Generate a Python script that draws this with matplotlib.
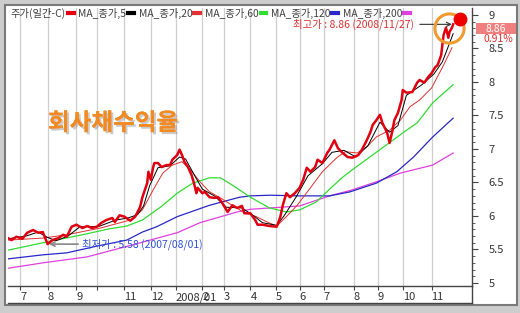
import matplotlib
matplotlib.use("Agg")
import matplotlib.pyplot as plt
import matplotlib.patheffects as pe
import matplotlib.transforms as mtrans
from matplotlib.lines import Line2D
from matplotlib.patches import Rectangle

plt.rcParams['font.family'] = ['Noto Sans CJK KR', 'DejaVu Sans']

# 거래일 인덱스 (2007/06 말 ~ 2008/11/27)
price_day = [0, 3, 7, 12, 16, 21, 25, 29, 33, 37, 42, 46, 49, 53, 57, 62, 66, 70, 74, 78,
             82, 87, 89, 93, 97, 102, 106, 110, 112, 116, 117, 119, 121, 122, 125, 128, 132, 135, 137, 141,
             143, 145, 147, 150, 153, 155, 157, 158, 162, 164, 168, 172, 175, 178, 181, 183, 187, 191, 195, 197,
             202, 206, 208, 212, 218, 224, 227, 229, 232, 235, 239, 243, 246, 249, 252, 256, 258, 262, 266, 268,
             272, 275, 279, 283, 287, 292, 295, 299, 302, 304, 307, 310, 312, 316, 318, 320, 322, 325, 328, 329,
             332, 337, 341, 343, 347, 350, 353, 356, 358, 361, 362, 363, 365, 367, 368, 370, 371]
price = [5.67, 5.64, 5.69, 5.66, 5.75, 5.79, 5.75, 5.76, 5.58, 5.64, 5.67, 5.72, 5.69, 5.84, 5.87, 5.82, 5.85, 5.82, 5.84, 5.90,
         5.94, 5.97, 5.91, 6.01, 5.99, 5.93, 5.99, 6.13, 6.28, 6.49, 6.66, 6.54, 6.73, 6.79, 6.79, 6.73, 6.76, 6.76, 6.84, 6.91,
         6.99, 6.91, 6.81, 6.73, 6.61, 6.49, 6.34, 6.42, 6.34, 6.36, 6.28, 6.27, 6.28, 6.21, 6.12, 6.06, 6.16, 6.12, 6.15, 6.04,
         6.04, 5.94, 5.87, 5.87, 5.85, 5.84, 5.99, 6.16, 6.34, 6.28, 6.34, 6.42, 6.54, 6.72, 6.66, 6.73, 6.84, 6.79, 6.94, 6.99,
         7.13, 7.01, 6.94, 6.88, 6.87, 6.91, 6.99, 7.13, 7.25, 7.36, 7.43, 7.51, 7.39, 7.24, 7.09, 7.24, 7.43, 7.54, 7.73, 7.88,
         7.84, 7.85, 7.99, 8.03, 7.99, 8.07, 8.13, 8.22, 8.25, 8.40, 8.55, 8.70, 8.81, 8.66, 8.75, 8.81, 8.86]

ma5_day = [0, 15, 25, 33, 40, 50, 60, 75, 90, 100, 108, 113, 118, 125, 135, 143, 148, 155, 162, 172,
           182, 195, 205, 212, 224, 230, 240, 250, 262, 270, 280, 290, 300, 310, 318, 325, 332, 345, 355, 362, 371]
ma5 = [5.66, 5.70, 5.76, 5.68, 5.63, 5.70, 5.84, 5.84, 5.94, 5.97, 6.02, 6.15, 6.45, 6.72, 6.75, 6.88, 6.85, 6.62, 6.40, 6.30,
       6.13, 6.12, 6.00, 5.90, 5.86, 6.00, 6.28, 6.60, 6.78, 6.95, 6.98, 6.88, 7.05, 7.40, 7.25, 7.35, 7.80, 7.96, 8.12, 8.30, 8.72]

ma20_day = [0, 29, 49, 77, 102, 112, 121, 129, 137, 145, 152, 160, 168, 177, 185, 196, 207, 216, 224, 232,
            241, 252, 262, 274, 281, 291, 299, 307, 318, 327, 335, 343, 353, 363, 370]
ma20 = [5.64, 5.67, 5.72, 5.82, 5.94, 6.09, 6.39, 6.64, 6.76, 6.81, 6.69, 6.51, 6.36, 6.27, 6.18, 6.06, 5.99, 5.91, 5.85, 5.99,
        6.16, 6.42, 6.66, 6.87, 6.96, 6.94, 7.03, 7.18, 7.28, 7.43, 7.63, 7.73, 7.91, 8.25, 8.51]

ma60_day = [0, 29, 62, 85, 99, 112, 127, 141, 154, 168, 177, 187, 202, 218, 232, 243, 257, 268, 279, 287, 310, 329, 341, 354, 371]
ma60 = [5.49, 5.60, 5.72, 5.81, 5.85, 5.94, 6.13, 6.34, 6.49, 6.57, 6.57, 6.46, 6.28, 6.12, 6.06, 6.09, 6.21, 6.40, 6.58, 6.69,
        6.99, 7.24, 7.39, 7.69, 7.96]

ma120_day = [0, 29, 49, 74, 99, 112, 124, 141, 168, 193, 202, 218, 243, 268, 285, 307, 324, 338, 354, 371]
ma120 = [5.36, 5.42, 5.45, 5.55, 5.64, 5.76, 5.84, 5.99, 6.16, 6.28, 6.30, 6.31, 6.30, 6.30, 6.36, 6.49, 6.66, 6.88, 7.18, 7.46]

ma200_day = [0, 29, 66, 104, 141, 160, 191, 202, 227, 243, 268, 287, 307, 327, 354, 371]
ma200 = [5.22, 5.30, 5.39, 5.57, 5.75, 5.90, 6.06, 6.10, 6.13, 6.15, 6.30, 6.39, 6.51, 6.64, 6.76, 6.94]

month_day = [10, 33, 57, 74, 97, 119, 140, 162, 180, 202, 223, 243, 263, 288, 308, 329, 353]
month_lab = ['7', '8', '9', '', '11', '12', '2008/01', '2', '3', '4', '5', '6', '7', '8', '9', '10', '11']

low_day, low_val, low_date = 33, 5.58, '2007/08/01'
high_day, high_val, high_date = 371, 8.86, '2008/11/27'
change_pct = 0.91

W, H = 520, 313
fig = plt.figure(figsize=(W / 100, H / 100), dpi=100, facecolor='#CDCDCD')
fig.patches.append(Rectangle((5 / W, 1 - 305 / H), 512 / W, 300 / H, transform=fig.transFigure,
                             facecolor='white', edgecolor='#7A7A7A', lw=1.5, zorder=-5))

ax = fig.add_axes([8 / W, 1 - 286 / H, 464 / W, 278 / H])
ax.set_facecolor('white')
ax.set_xlim(0, 386.7)
ax.set_ylim(4.955, 9.104)

for s in ['left', 'top']:
    ax.spines[s].set_visible(False)
for s in ['right', 'bottom']:
    ax.spines[s].set_color('#444444')
    ax.spines[s].set_linewidth(1.0)

ax.set_xticks(month_day)
ax.set_xticklabels(month_lab, ha='left', fontsize=8, color='#333333')
ax.tick_params(axis='x', direction='out', length=3, pad=1.5, color='#444444')
ax.grid(axis='x', color='#CFCFCF', lw=0.9)

ax.yaxis.tick_right()
ax.set_yticks([5, 5.5, 6, 6.5, 7, 7.5, 8, 8.5, 9])
ax.set_yticklabels(['5', '5.5', '6', '6.5', '7', '7.5', '8', '8.5', '9'], fontsize=8, color='#333333')
ax.set_yticks([v / 10 for v in range(50, 91)], minor=True)
ax.tick_params(axis='y', which='major', direction='out', length=4, pad=8, color='#444444')
ax.tick_params(axis='y', which='minor', direction='out', length=2, color='#444444')

ax.plot(ma200_day, ma200, color='#E040E0', lw=0.9)
ax.plot(ma120_day, ma120, color='#2828C8', lw=0.9)
ax.plot(ma60_day, ma60, color='#30DD30', lw=0.9)
ax.plot(ma20_day, ma20, color='#E03030', lw=0.7)
ax.plot(ma5_day, ma5, color='black', lw=0.7)
ax.plot(price_day, price, color='#E00010', lw=1.8, zorder=5)

# 축 패널 선
fig.add_artist(Line2D([8 / W, 472 / W], [1 - 303 / H] * 2, color='#444444', lw=1.0))
fig.add_artist(Line2D([472 / W] * 2, [1 - 286 / H, 1 - 303 / H], color='#444444', lw=1.0))

# 범례
names = ['주가(일간-C)', 'MA_종가,5', 'MA_종가,20', 'MA_종가,60', 'MA_종가,120', 'MA_종가,200']
colors = ['#E00010', 'black', '#E03030', '#30DD30', '#2828C8', '#E040E0']
handles = [Line2D([], [], color=c, lw=3) for c in colors]
leg = ax.legend(handles, names, loc='upper left', bbox_to_anchor=(0.004, 1.005), ncol=6,
                markerfirst=False, handlelength=0.55, handletextpad=0.2, columnspacing=0.45,
                frameon=False, fontsize=7.4, borderaxespad=0, borderpad=0.1)
for t in leg.get_texts():
    t.set_color('#404040')

# 제목
ax.text(0.086, 0.586, '회사채수익율', transform=ax.transAxes, ha='left', va='center',
        fontsize=17, fontweight='bold', color='#F28A24',
        path_effects=[pe.withSimplePatchShadow(offset=(1.5, -1.5), shadow_rgbFace='#999999', alpha=0.5),
                      pe.Normal()])

# 최고가 / 최저가
ax.annotate(f'최고가 : {high_val:.2f} ({high_date})', xy=(high_day, high_val), xytext=(-28, 0),
            textcoords='offset points', ha='right', va='center', fontsize=7.5, color='#E03030',
            arrowprops=dict(arrowstyle='->', color='#333333', lw=0.8, shrinkA=2, shrinkB=1))
ax.annotate(f'최저가 : {low_val:.2f} ({low_date})', xy=(low_day, low_val), xytext=(25, 0),
            textcoords='offset points', ha='left', va='center', fontsize=7.5, color='#3050D0',
            arrowprops=dict(arrowstyle='->', color='#888888', lw=1.2, shrinkA=1, shrinkB=1))

ax.plot([high_day], [high_val], 'o', ms=21, mfc='none', mec='#F09A30', mew=2.2, zorder=6,
        transform=ax.transData + mtrans.ScaledTranslation(-4 / 100, -4 / 100, fig.dpi_scale_trans))
ax.plot([high_day], [high_val], 'o', ms=9, color='#EE0000', zorder=7, clip_on=False,
        transform=ax.transData + mtrans.ScaledTranslation(7 / 100, 5 / 100, fig.dpi_scale_trans))

# 오른쪽 현재가 표시
fig.patches.append(Rectangle((476 / W, 1 - 34 / H), 40 / W, 11 / H, transform=fig.transFigure,
                             facecolor='#F08080', edgecolor='none'))
fig.text(496 / W, 1 - 28.5 / H, f'{high_val:.2f}', ha='center', va='center', fontsize=7.5, color='white')
fig.text(498 / W, 1 - 38.5 / H, f'{change_pct:.2f}%', ha='center', va='center', fontsize=7.5, color='#E03030')

fig.savefig('out.png', dpi=100, facecolor=fig.get_facecolor())
